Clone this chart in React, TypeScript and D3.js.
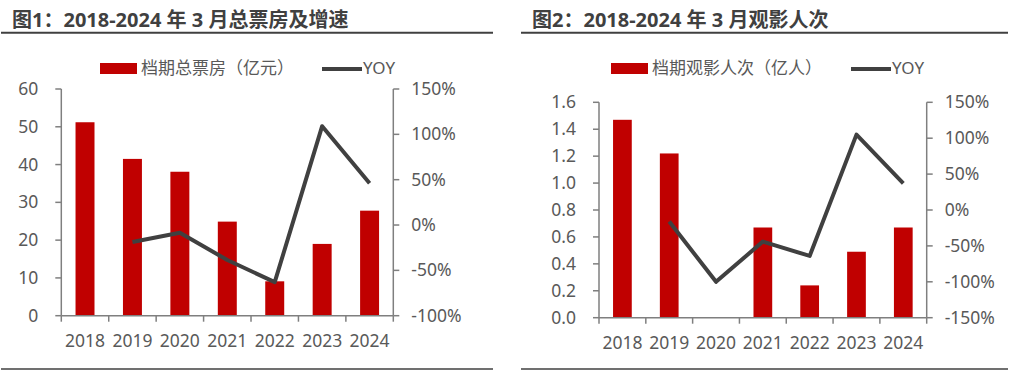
import React from 'react';
import * as d3 from 'd3';

const years = ['2018', '2019', '2020', '2021', '2022', '2023', '2024'];

// 图1 总票房（亿元）及同比
const boxOffice = [51.2, 41.5, 38.1, 24.9, 9.1, 19.0, 27.8];
const boxOfficeYoy = [null, -18.7, -8.5, -38.6, -63.0, 109.0, 46.0];
const boxTicks = [0, 10, 20, 30, 40, 50, 60];
const boxYoyTicks = [-100, -50, 0, 50, 100, 150];

// 图2 观影人次（亿人）及同比
const audience = [1.47, 1.22, 0.0, 0.67, 0.24, 0.49, 0.67];
const audienceYoy = [null, -16, -100, -44, -64, 105, 37];
const audTicks = [0, 0.2, 0.4, 0.6, 0.8, 1.0, 1.2, 1.4, 1.6];
const audYoyTicks = [-150, -100, -50, 0, 50, 100, 150];

const RED = '#C00000';
const DARK = '#404040';
const AXIS = '#7f7f7f';
const TXT = '#595959';
const FONT = '"Noto Sans", "Noto Sans CJK SC", sans-serif';

type PanelProps = {
  title: string;
  left: number;
  lineX0: number;
  lineX1: number;
  x0: number;
  x1: number;
  yTop: number;
  yBottom: number;
  bars: number[];
  yoy: (number | null)[];
  ticks: number[];
  yoyTicks: number[];
  fmt: (v: number) => string;
  legendX: number;
  legendName: string;
  yoyLegendX: number;
};

const Panel = (p: PanelProps) => {
  const x = d3.scaleBand<string>().domain(years).range([p.x0, p.x1]).paddingInner(0.6).paddingOuter(0.3);
  const xb = d3.scaleBand<string>().domain(years).range([p.x0, p.x1]);
  const y = d3.scaleLinear().domain([p.ticks[0], p.ticks[p.ticks.length - 1]]).range([p.yBottom, p.yTop]);
  const y2 = d3.scaleLinear().domain([p.yoyTicks[0], p.yoyTicks[p.yoyTicks.length - 1]]).range([p.yBottom, p.yTop]);
  const line = d3.line<[string, number | null]>()
    .defined(d => d[1] !== null)
    .x(d => xb(d[0])! + xb.bandwidth() / 2)
    .y(d => y2(d[1] as number));
  const pts = years.map((yr, i) => [yr, p.yoy[i]] as [string, number | null]);
  const legY = 68.5;

  return (
    <g>
      <text x={p.left} y={27} fontSize={20} fontWeight="bold" fill={DARK} fontFamily={FONT}>{p.title}</text>
      <line x1={p.lineX0} x2={p.lineX1} y1={32.7} y2={32.7} stroke={DARK} strokeWidth={2} />
      <line x1={p.lineX0} x2={p.lineX1} y1={369} y2={369} stroke={DARK} strokeWidth={1.5} />

      {/* legend */}
      <rect x={p.legendX} y={legY - 5.5} width={37} height={11} fill={RED} />
      <text x={p.legendX + 41} y={legY} dy="0.35em" fontSize={17} fill={TXT} fontFamily={FONT}>{p.legendName}</text>
      <line x1={p.yoyLegendX} x2={p.yoyLegendX + 40} y1={legY + 0.5} y2={legY + 0.5} stroke={DARK} strokeWidth={4} />
      <text x={p.yoyLegendX + 41} y={legY} dy="0.35em" fontSize={17} fill={TXT} fontFamily={FONT}>YOY</text>

      {/* bars */}
      {years.map((yr, i) => (
        <rect key={yr} x={x(yr)} y={y(p.bars[i])} width={x.bandwidth()} height={p.yBottom - y(p.bars[i])} fill={RED} />
      ))}

      {/* left axis */}
      <line x1={p.x0} x2={p.x0} y1={p.yTop} y2={p.yBottom} stroke={AXIS} strokeWidth={1.5} />
      {p.ticks.map(t => (
        <g key={t}>
          <line x1={p.x0 - 6} x2={p.x0} y1={y(t)} y2={y(t)} stroke={AXIS} strokeWidth={1.5} />
          <text x={p.x0 - 23} y={y(t)} dy="0.35em" textAnchor="end" fontSize={17.5} fill={TXT} fontFamily={FONT}>{p.fmt(t)}</text>
        </g>
      ))}

      {/* right axis */}
      <line x1={p.x1} x2={p.x1} y1={p.yTop} y2={p.yBottom} stroke={AXIS} strokeWidth={1.5} />
      {p.yoyTicks.map(t => (
        <g key={t}>
          <line x1={p.x1} x2={p.x1 + 6} y1={y2(t)} y2={y2(t)} stroke={AXIS} strokeWidth={1.5} />
          <text x={p.x1 + 18} y={y2(t)} dy="0.35em" fontSize={17.5} fill={TXT} fontFamily={FONT}>{t}%</text>
        </g>
      ))}

      {/* bottom axis */}
      <line x1={p.x0} x2={p.x1} y1={p.yBottom} y2={p.yBottom} stroke={AXIS} strokeWidth={1.5} />
      {years.map(yr => (
        <line key={yr} x1={xb(yr)} x2={xb(yr)} y1={p.yBottom} y2={p.yBottom + 6} stroke={AXIS} strokeWidth={1.5} />
      ))}
      <line x1={p.x1} x2={p.x1} y1={p.yBottom} y2={p.yBottom + 6} stroke={AXIS} strokeWidth={1.5} />
      {years.map(yr => (
        <text key={yr} x={xb(yr)! + xb.bandwidth() / 2} y={p.yBottom + 31} textAnchor="middle" fontSize={17.5} fill={TXT} fontFamily={FONT}>{yr}</text>
      ))}

      <path d={line(pts) || ''} fill="none" stroke={DARK} strokeWidth={4} strokeLinejoin="round" />
    </g>
  );
};

export default function App() {
  return (
    <svg width={1009} height={373} style={{ position: 'absolute', left: 0, top: 0, background: '#fff' }}>
      <Panel
        title="图1：2018-2024 年 3 月总票房及增速"
        left={12} lineX0={1} lineX1={493}
        x0={61.3} x1={393.3} yTop={89} yBottom={315.7}
        bars={boxOffice} yoy={boxOfficeYoy} ticks={boxTicks} yoyTicks={boxYoyTicks}
        fmt={v => String(v)}
        legendX={100} legendName="档期总票房（亿元）" yoyLegendX={322}
      />
      <Panel
        title="图2：2018-2024 年 3 月观影人次"
        left={532} lineX0={521} lineX1={1008}
        x0={599} x1={926.7} yTop={102.3} yBottom={317.7}
        bars={audience} yoy={audienceYoy} ticks={audTicks} yoyTicks={audYoyTicks}
        fmt={v => v.toFixed(1)}
        legendX={611} legendName="档期观影人次（亿人）" yoyLegendX={851}
      />
    </svg>
  );
}
